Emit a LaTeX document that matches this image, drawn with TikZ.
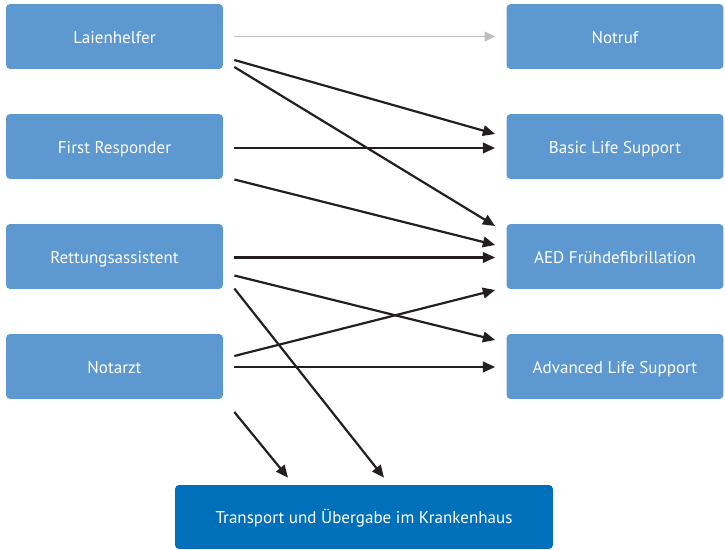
\documentclass[tikz,border=0pt]{standalone}
\usepackage{fontspec}
\setmainfont{PT Sans}
\usetikzlibrary{arrows.meta,calc}

\definecolor{boxblau}{RGB}{93,152,208}
\definecolor{dunkelblau}{RGB}{0,112,186}
\definecolor{pfeil}{RGB}{35,31,32}
\definecolor{pfeilgrau}{RGB}{190,190,190}

\begin{document}
\begin{tikzpicture}[x=0.02cm,y=-0.02cm,
  kasten/.style={rectangle, rounded corners=2.3pt, fill=boxblau, text=white,
    minimum width=4.34cm, minimum height=1.3cm, inner sep=0pt,
    text height=1.8ex, text depth=0.3ex, font=\fontsize{9.7}{11}\selectfont},
  ziel/.style={kasten, fill=dunkelblau, minimum width=7.56cm, minimum height=1.28cm},
  pf/.style={draw=pfeil, line width=1.25pt, -{Triangle[length=7pt,width=6pt]}},
  pfgrau/.style={pf, draw=pfeilgrau, line width=1.1pt, -{Triangle[length=6pt,width=5.5pt]}}]
\useasboundingbox (0,0) rectangle (725,550);

% Beteiligte links
\node[kasten] (LH) at (114.5,36.5) {Laienhelfer};
\node[kasten] (FR) at (114.5,146.5) {First Responder};
\node[kasten] (RA) at (114.5,256.5) {Rettungsassistent};
\node[kasten] (NA) at (114.5,366.5) {Notarzt};

% Massnahmen rechts
\node[kasten] (NR) at (615,36.5) {Notruf};
\node[kasten] (BLS) at (615,146.5) {Basic Life Support};
\node[kasten] (AED) at (615,256.5) {AED Frühdefibrillation};
\node[kasten] (ALS) at (615,366.5) {Advanced Life Support};

% Transport unten
\node[ziel] (TR) at (364,517) {Transport und Übergabe im Krankenhaus};

% Laienhelfer
\draw[pfgrau] ($(LH.east)+(11,0)$) -- ($(NR.west)+(-11,0)$);
\draw[pf] ($(LH.east)+(11,23.5)$) -- ($(BLS.west)+(-11,-12.5)$);
\draw[pf] ($(LH.east)+(11,30.5)$) -- ($(AED.west)+(-11,-30.5)$);

% First Responder
\draw[pf] ($(FR.east)+(11,1.5)$) -- ($(BLS.west)+(-11,1.5)$);
\draw[pf] ($(FR.east)+(11,33)$) -- ($(AED.west)+(-11,-11.5)$);

% Rettungsassistent
\draw[pf] ($(RA.east)+(11,1)$) -- ($(AED.west)+(-11,1)$);
\draw[pf] ($(RA.east)+(11,19)$) -- ($(ALS.west)+(-11,-26.5)$);
\draw[pf] ($(RA.east)+(11,32)$) -- ($(TR.north)+(20,-7)$);

% Notarzt
\draw[pf] ($(NA.east)+(11,-10.5)$) -- ($(AED.west)+(-11,33.5)$);
\draw[pf] ($(NA.east)+(11,0.5)$) -- ($(ALS.west)+(-11,0.5)$);
\draw[pf] ($(NA.east)+(11,45.5)$) -- ($(TR.north)+(-76,-7)$);

\end{tikzpicture}
\end{document}
